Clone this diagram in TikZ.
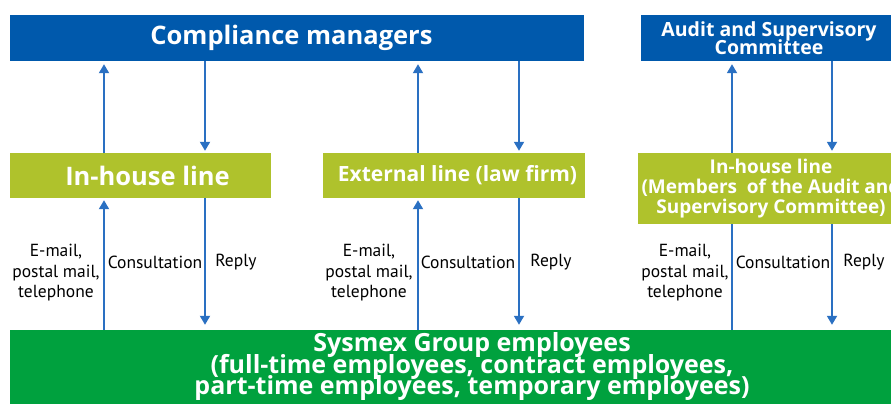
\documentclass[tikz,border=0pt]{standalone}
\usepackage{fontspec}
\setmainfont{PT Sans}
\newfontfamily\headfont{Open Sans}
\usetikzlibrary{arrows.meta}
\definecolor{cmblue}{HTML}{0059AC}
\definecolor{lime}{HTML}{AFC22C}
\definecolor{empgreen}{HTML}{00A13E}
\definecolor{arrblue}{HTML}{2A70C2}
\newcommand{\tightlines}{\lineskiplimit=-40pt\lineskip=0pt}
\tikzset{
  bluebox/.style={fill=cmblue, text=white, inner sep=0pt, anchor=center, align=center},
  limebox/.style={fill=lime, text=white, inner sep=0pt, anchor=center, align=center},
  greenbox/.style={fill=empgreen, text=white, inner sep=0pt, anchor=center, align=center},
  arr/.style={draw=arrblue, line width=1.8pt, -{Triangle[width=10pt,length=9pt]}},
  plain/.style={draw=arrblue, line width=1.8pt},
  lab/.style={text=black, align=center, inner sep=0pt, font=\fontsize{17.5}{20.5}\selectfont\tightlines}
}
\begin{document}
\begin{tikzpicture}[x=1pt,y=-1pt]
\useasboundingbox (0,0) rectangle (891,404);
\fill[white] (0,0) rectangle (891,404);
% boxes
\node[bluebox, minimum width=574pt, minimum height=46pt, font=\headfont\bfseries\fontsize{25.5}{28}\selectfont] (cm) at (297,38) {Compliance managers\hspace*{11pt}};
\node[bluebox, minimum width=256pt, minimum height=46pt, font=\headfont\bfseries\fontsize{19.5}{17.5}\selectfont\tightlines] (asc) at (769,38) {Audit and Supervisory\\Committee};
\node[limebox, minimum width=261pt, minimum height=45pt, font=\headfont\bfseries\fontsize{25.5}{28}\selectfont] (ih) at (140.5,175.5) {\hspace*{14pt}In-house line};
\node[limebox, minimum width=262pt, minimum height=45pt, font=\headfont\bfseries\fontsize{21}{24}\selectfont] (ext) at (454,175.5) {\hspace*{7pt}External line (law firm)};
\node[limebox, minimum width=266pt, minimum height=71pt, font=\headfont\bfseries\fontsize{19}{20}\selectfont\tightlines] (ihac) at (771,188.5) {In-house line\\(Members\ \ of the Audit and\\Supervisory Committee)};
\node[greenbox, minimum width=924pt, minimum height=74pt, font=\headfont\bfseries\fontsize{25}{21.5}\selectfont\tightlines] (emp) at (472,367) {Sysmex Group employees\\(full-time employees, contract employees,\\part-time employees, temporary employees)};
% arrow columns
\coordinate (c1) at (104,0);
\coordinate (c2) at (205,0);
\coordinate (c3) at (418,0);
\coordinate (c4) at (519,0);
\coordinate (c5) at (732,0);
\coordinate (c6) at (832,0);
% upper arrows
\draw[arr, shorten >=3pt] (ih.north -| c1) -- (cm.south -| c1);
\draw[arr, shorten >=2pt] (cm.south -| c2) -- (ih.north -| c2);
\draw[arr, shorten >=3pt] (ext.north -| c3) -- (cm.south -| c3);
\draw[arr, shorten >=2pt] (cm.south -| c4) -- (ext.north -| c4);
\draw[arr, shorten >=3pt] (ihac.north -| c5) -- (asc.south -| c5);
\draw[arr, shorten >=2pt] (asc.south -| c6) -- (ihac.north -| c6);
% lower arrows
\draw[arr, shorten >=2pt] (emp.north -| c1) -- (ih.south -| c1);
\draw[arr, shorten >=5pt] (ih.south -| c2) -- (emp.north -| c2);
\draw[arr, shorten >=2pt] (emp.north -| c3) -- (ext.south -| c3);
\draw[arr, shorten >=5pt] (ext.south -| c4) -- (emp.north -| c4);
\draw[plain] (emp.north -| c5) -- (ihac.south -| c5);
\draw[arr, shorten >=5pt] (ihac.south -| c6) -- (emp.north -| c6);
% labels
\node[lab] (m1) at (56,273) {E-mail,\\postal mail,\\telephone};
\node[lab] (k1) at (155,262) {Consultation};
\node[lab] (r1) at (236,262) {Reply};
\node[lab] (m2) at (369,273) {E-mail,\\postal mail,\\telephone};
\node[lab] (k2) at (468,262) {Consultation};
\node[lab] (r2) at (551,262) {Reply};
\node[lab] (m3) at (685,273) {E-mail,\\postal mail,\\telephone};
\node[lab] (k3) at (783,262) {Consultation};
\node[lab] (r3) at (864,262) {Reply};
\end{tikzpicture}
\end{document}
